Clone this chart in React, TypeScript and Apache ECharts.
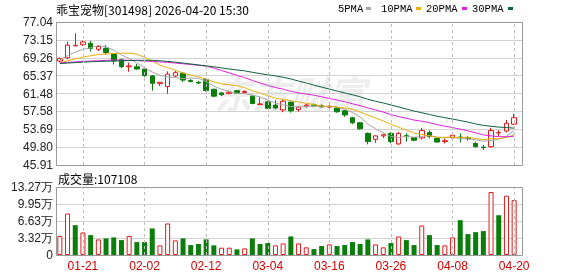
import React, { useEffect, useRef } from "react";
import * as echarts from "echarts";

const dates = [
  "01-16", "01-19", "01-20", "01-21", "01-22", "01-23", "01-26", "01-27", "01-28", "01-29", "01-30",
  "02-02", "02-03", "02-04", "02-05", "02-06", "02-09", "02-10", "02-11", "02-12", "02-13",
  "02-24", "02-25", "02-26", "02-27",
  "03-02", "03-03", "03-04", "03-05", "03-06", "03-09", "03-10", "03-11", "03-12", "03-13",
  "03-16", "03-17", "03-18", "03-19", "03-20", "03-23", "03-24", "03-25", "03-26", "03-27",
  "03-30", "03-31",
  "04-01", "04-02", "04-03", "04-07", "04-08", "04-09", "04-10", "04-13", "04-14", "04-15",
  "04-16", "04-17", "04-20",
];

const openPrices = [
  68.55, 69.25, 71.85, 72.1, 72.4, 71.1, 71.3, 70.1, 68.8, 67.3,
  67.3, 66.8, 65.3, 63.6, 63.0, 65.3, 65.9, 64.3, 63.9, 64.5,
  62.4, 61.6, 61.5, 62.1, 61.7, 60.9, 59.05, 59.65, 58.95, 57.9,
  59.6, 58.0, 58.8, 59.0, 58.8, 58.5, 58.3, 57.7, 56.2, 55.1,
  52.8, 51.5, 52.25, 52.8, 50.5, 52.3, 51.9, 51.8, 53.0, 51.7,
  51.0, 51.8, 52.0, 51.8, 50.6, 49.8, 49.9, 52.9, 53.3, 54.8,
];
const closePrices = [
  69.1, 72.0, 71.95, 72.7, 71.3, 71.7, 70.4, 68.6, 67.3, 67.5,
  66.8, 65.4, 63.7, 63.9, 65.7, 66.0, 64.4, 64.1, 63.75, 62.1,
  60.9, 61.2, 61.75, 61.55, 61.9, 59.3, 59.2, 58.25, 58.32, 59.8,
  57.7, 58.5, 58.95, 58.8, 58.6, 58.7, 57.5, 56.8, 55.1, 53.8,
  51.0, 52.25, 52.5, 51.0, 52.8, 52.1, 51.3, 53.4, 52.1, 50.9,
  51.2, 52.4, 51.8, 51.65, 49.9, 49.7, 53.4, 52.98, 55.0, 56.2,
];
const lowPrices = [
  68.3, 69.0, 71.75, 71.8, 70.6, 70.7, 69.9, 67.8, 67.0, 66.2,
  66.7, 65.1, 62.1, 63.1, 61.4, 65.0, 64.0, 63.9, 63.5, 61.9,
  60.7, 60.9, 61.3, 61.4, 61.5, 59.1, 58.95, 58.1, 58.0, 57.4,
  57.3, 57.5, 58.4, 58.5, 58.3, 58.2, 57.3, 56.4, 54.8, 53.6,
  50.4, 50.7, 51.8, 50.6, 50.3, 51.0, 51.1, 51.5, 51.7, 50.8,
  50.6, 51.7, 50.8, 51.2, 49.7, 49.2, 49.7, 52.1, 53.0, 54.6,
];
const highPrices = [
  69.3, 72.75, 74.6, 72.95, 72.9, 72.0, 72.0, 70.3, 69.1, 68.2,
  67.9, 67.1, 65.5, 64.0, 66.3, 66.4, 66.1, 64.6, 64.2, 64.8,
  62.5, 61.8, 62.0, 62.2, 62.2, 61.1, 60.65, 59.8, 60.0, 60.1,
  59.7, 58.7, 59.3, 59.3, 59.1, 59.0, 58.6, 57.9, 56.4, 55.3,
  53.0, 52.4, 52.7, 53.0, 53.1, 52.8, 52.0, 54.0, 53.4, 51.9,
  51.7, 52.5, 52.8, 52.2, 51.0, 50.3, 54.0, 53.5, 55.7, 57.0,
];

const volumes = [
  36900, 80900, 58200, 44000, 38800, 30400, 32400, 34300, 29100, 36900,
  25200, 25200, 51800, 18800, 61500, 28500, 32400, 19400, 21400, 30400,
  18800, 14200, 14200, 11000, 12900, 32400, 21400, 23300, 18800, 22600,
  36200, 22600, 14900, 11600, 17500, 20700, 17500, 19400, 25200, 21400,
  30400, 20700, 14900, 23300, 36200, 29100, 19400, 57600, 38800, 19400,
  18800, 34300, 67900, 40800, 44600, 46600, 122900, 77600, 115800, 107108,
];
// 1 = red (rising) volume bar, 0 = green
const volumeUp = [
  1, 1, 0, 1, 0, 1, 0, 0, 0, 1,
  0, 0, 0, 1, 1, 1, 0, 0, 0, 0,
  0, 1, 1, 0, 1, 0, 0, 0, 1, 1,
  0, 1, 1, 0, 0, 1, 0, 0, 0, 0,
  0, 1, 1, 0, 1, 0, 0, 1, 0, 0,
  1, 1, 0, 0, 0, 0, 1, 0, 1, 1,
];

const ma5Head = [68.8, 69.7, 70.5, 71.1];
const ma10Head = [68.2, 68.6, 69.0, 69.4, 69.7, 69.95, 70.1, 70.2, 70.25];
const ma20Head = [
  68.15, 68.25, 68.35, 68.45, 68.55, 68.6, 68.7, 68.75, 68.75, 68.7,
  68.65, 68.55, 68.45, 68.35, 68.25, 68.1, 67.95, 67.8, 67.6,
];
const ma30Head = [
  68.0, 68.1, 68.2, 68.3, 68.4, 68.45, 68.5, 68.55, 68.6, 68.65,
  68.7, 68.7, 68.7, 68.6, 68.45, 68.3, 68.1, 67.9, 67.7, 67.5,
  67.3, 67.05, 66.8, 66.6, 66.4, 66.1, 65.8, 65.55, 65.3,
];

const priceTickLabels = ["45.91", "49.80", "53.69", "57.58", "61.48", "65.37", "69.26", "73.15", "77.04"];
const volumeTickLabels = ["0", "3.32万", "6.63万", "9.95万", "13.27万"];
const labelDates = ["01-21", "02-02", "02-12", "03-04", "03-16", "03-26", "04-08", "04-20"];
const PRICE_MIN = 45.91;
const PRICE_MAX = 77.04;
const VOLUME_MAX = 132700;
const lastVolume = 107108;
const titleText = "乖宝宠物[301498] 2026-04-20 15:30";
const maNames = ["5PMA", "10PMA", "20PMA", "30PMA"];

const RED = "#e01b1b";
const GREEN = "#0b7d0b";
const MA_COLORS = ["#a6a6a6", "#e8b00c", "#e020e0", "#11613d"];

function movingAverage(n: number, head: number[]) {
  return closePrices.map((_, i) => {
    if (i < head.length) return head[i];
    let s = 0;
    for (let k = i - n + 1; k <= i; k++) s += closePrices[k];
    return +(s / n).toFixed(3);
  });
}

export default function App() {
  const ref = useRef<HTMLDivElement>(null);
  useEffect(() => {
    document.body.style.margin = "0";
    const chart = echarts.init(ref.current!, undefined, { renderer: "svg" });
    const candleData = dates.map((_, i) => [openPrices[i], closePrices[i], lowPrices[i], highPrices[i]]);
    const mas = [
      movingAverage(5, ma5Head),
      movingAverage(10, ma10Head),
      movingAverage(20, ma20Head),
      movingAverage(30, ma30Head),
    ];
    const labelIdx = labelDates.map((d) => dates.indexOf(d));
    const markLine = {
      silent: true,
      symbol: ["none", "none"],
      label: { show: false },
      lineStyle: { color: "#bdbdbd", type: [3, 3], width: 1 },
      emphasis: { disabled: true },
      data: labelIdx.map((i) => ({ xAxis: i })),
    };
    const axisFont = { fontFamily: "'Liberation Sans', Arial, sans-serif", fontSize: 12, color: "#222" };
    const legendX = [338, 381, 426, 472];
    const legendMarkX = [366, 416, 462, 508];
    const graphics: any[] = [
      {
        type: "text",
        x: 290,
        y: 92,
        z: 0,
        style: {
          text: "东方财富",
          fontSize: 38,
          fontWeight: "bold",
          fontStyle: "italic",
          fontFamily: "'Noto Sans CJK SC'",
          fill: "rgba(0,0,0,0.07)",
          align: "center",
          verticalAlign: "middle",
        },
      },
      {
        type: "text",
        x: 56,
        y: 9,
        z: 10,
        style: { text: titleText, fontSize: 12, fontFamily: "'Noto Sans CJK SC'", fill: "#000", verticalAlign: "middle" },
      },
      {
        type: "text",
        x: 58,
        y: 178,
        z: 10,
        style: {
          text: "成交量:" + lastVolume,
          fontSize: 12,
          fontFamily: "'Noto Sans CJK SC'",
          fill: "#000",
          verticalAlign: "middle",
        },
      },
      {
        type: "rect",
        z: 100,
        shape: { x: 56.5, y: 22.5, width: 466, height: 143 },
        style: { fill: "none", stroke: "#9a9a9a", lineWidth: 1 },
      },
      {
        type: "rect",
        z: 100,
        shape: { x: 56.5, y: 187.5, width: 466, height: 68 },
        style: { fill: "none", stroke: "#9a9a9a", lineWidth: 1 },
      },
    ];
    maNames.forEach((name, k) => {
      graphics.push({
        type: "text",
        x: legendX[k],
        y: 9,
        z: 10,
        style: { text: name, fontSize: 10.5, fontFamily: "'Liberation Mono', monospace", fill: "#000", verticalAlign: "middle" },
      });
      graphics.push({
        type: "rect",
        z: 10,
        shape: { x: legendMarkX[k], y: 7, width: 5, height: 3 },
        style: { fill: MA_COLORS[k] },
      });
    });

    const hiddenValueX = (gridIndex: number) => ({
      type: "value",
      gridIndex,
      min: 0,
      max: 1,
      show: false,
      splitLine: { show: false },
    });

    chart.setOption({
      animation: false,
      grid: [
        { left: 56, top: 22, width: 466, height: 143 },
        { left: 56, top: 22, width: 462, height: 143 },
        { left: 56, top: 187, width: 466, height: 68 },
        { left: 56, top: 187, width: 462, height: 68 },
      ],
      xAxis: [
        hiddenValueX(0),
        {
          type: "category",
          gridIndex: 1,
          data: dates,
          boundaryGap: true,
          axisLine: { show: false },
          axisTick: { show: false },
          axisLabel: { show: false },
          splitLine: { show: false },
        },
        hiddenValueX(2),
        {
          type: "category",
          gridIndex: 3,
          data: dates,
          boundaryGap: true,
          axisLine: { show: false },
          axisTick: { show: false },
          splitLine: { show: false },
          axisLabel: {
            interval: (index: number) => labelIdx.indexOf(index) >= 0,
            margin: 5,
            fontFamily: "'Liberation Sans', Arial, sans-serif",
            fontSize: 12,
            color: "#d40000",
          },
        },
      ],
      yAxis: [
        {
          type: "value",
          gridIndex: 0,
          min: 0,
          max: priceTickLabels.length - 1,
          interval: 1,
          axisLine: { show: false },
          axisTick: { show: false },
          axisLabel: { ...axisFont, margin: 3, formatter: (v: number) => priceTickLabels[Math.round(v)] },
          splitLine: { show: true, lineStyle: { color: "#d2d2d2", width: 1 } },
        },
        {
          type: "value",
          gridIndex: 1,
          min: PRICE_MIN,
          max: PRICE_MAX,
          show: false,
          splitLine: { show: false },
        },
        {
          type: "value",
          gridIndex: 2,
          min: 0,
          max: volumeTickLabels.length - 1,
          interval: 1,
          axisLine: { show: false },
          axisTick: { show: false },
          axisLabel: { ...axisFont, margin: 3, formatter: (v: number) => volumeTickLabels[Math.round(v)] },
          splitLine: { show: true, lineStyle: { color: "#d2d2d2", width: 1 } },
        },
        {
          type: "value",
          gridIndex: 3,
          min: 0,
          max: VOLUME_MAX,
          show: false,
          splitLine: { show: false },
        },
      ],
      series: [
        {
          type: "candlestick",
          xAxisIndex: 1,
          yAxisIndex: 1,
          data: candleData,
          barWidth: 5,
          itemStyle: {
            color: "#ffffff",
            color0: GREEN,
            borderColor: RED,
            borderColor0: GREEN,
            borderWidth: 1,
          },
          markLine,
          z: 3,
        },
        ...mas.map((d, k) => ({
          type: "line",
          name: maNames[k],
          xAxisIndex: 1,
          yAxisIndex: 1,
          data: d,
          symbol: "none",
          lineStyle: { color: MA_COLORS[k], width: 1 },
          z: 4,
        })),
        {
          type: "bar",
          xAxisIndex: 3,
          yAxisIndex: 3,
          barWidth: 5,
          data: volumes.map((v, i) => ({
            value: v,
            itemStyle: volumeUp[i]
              ? { color: "#ffffff", borderColor: RED, borderWidth: 1 }
              : { color: GREEN, borderColor: GREEN, borderWidth: 0 },
          })),
          markLine,
          z: 3,
        },
      ],
      graphic: graphics,
    });
    return () => chart.dispose();
  }, []);
  return <div ref={ref} style={{ position: "fixed", left: 0, top: 0, width: 578, height: 276 }} />;
}
